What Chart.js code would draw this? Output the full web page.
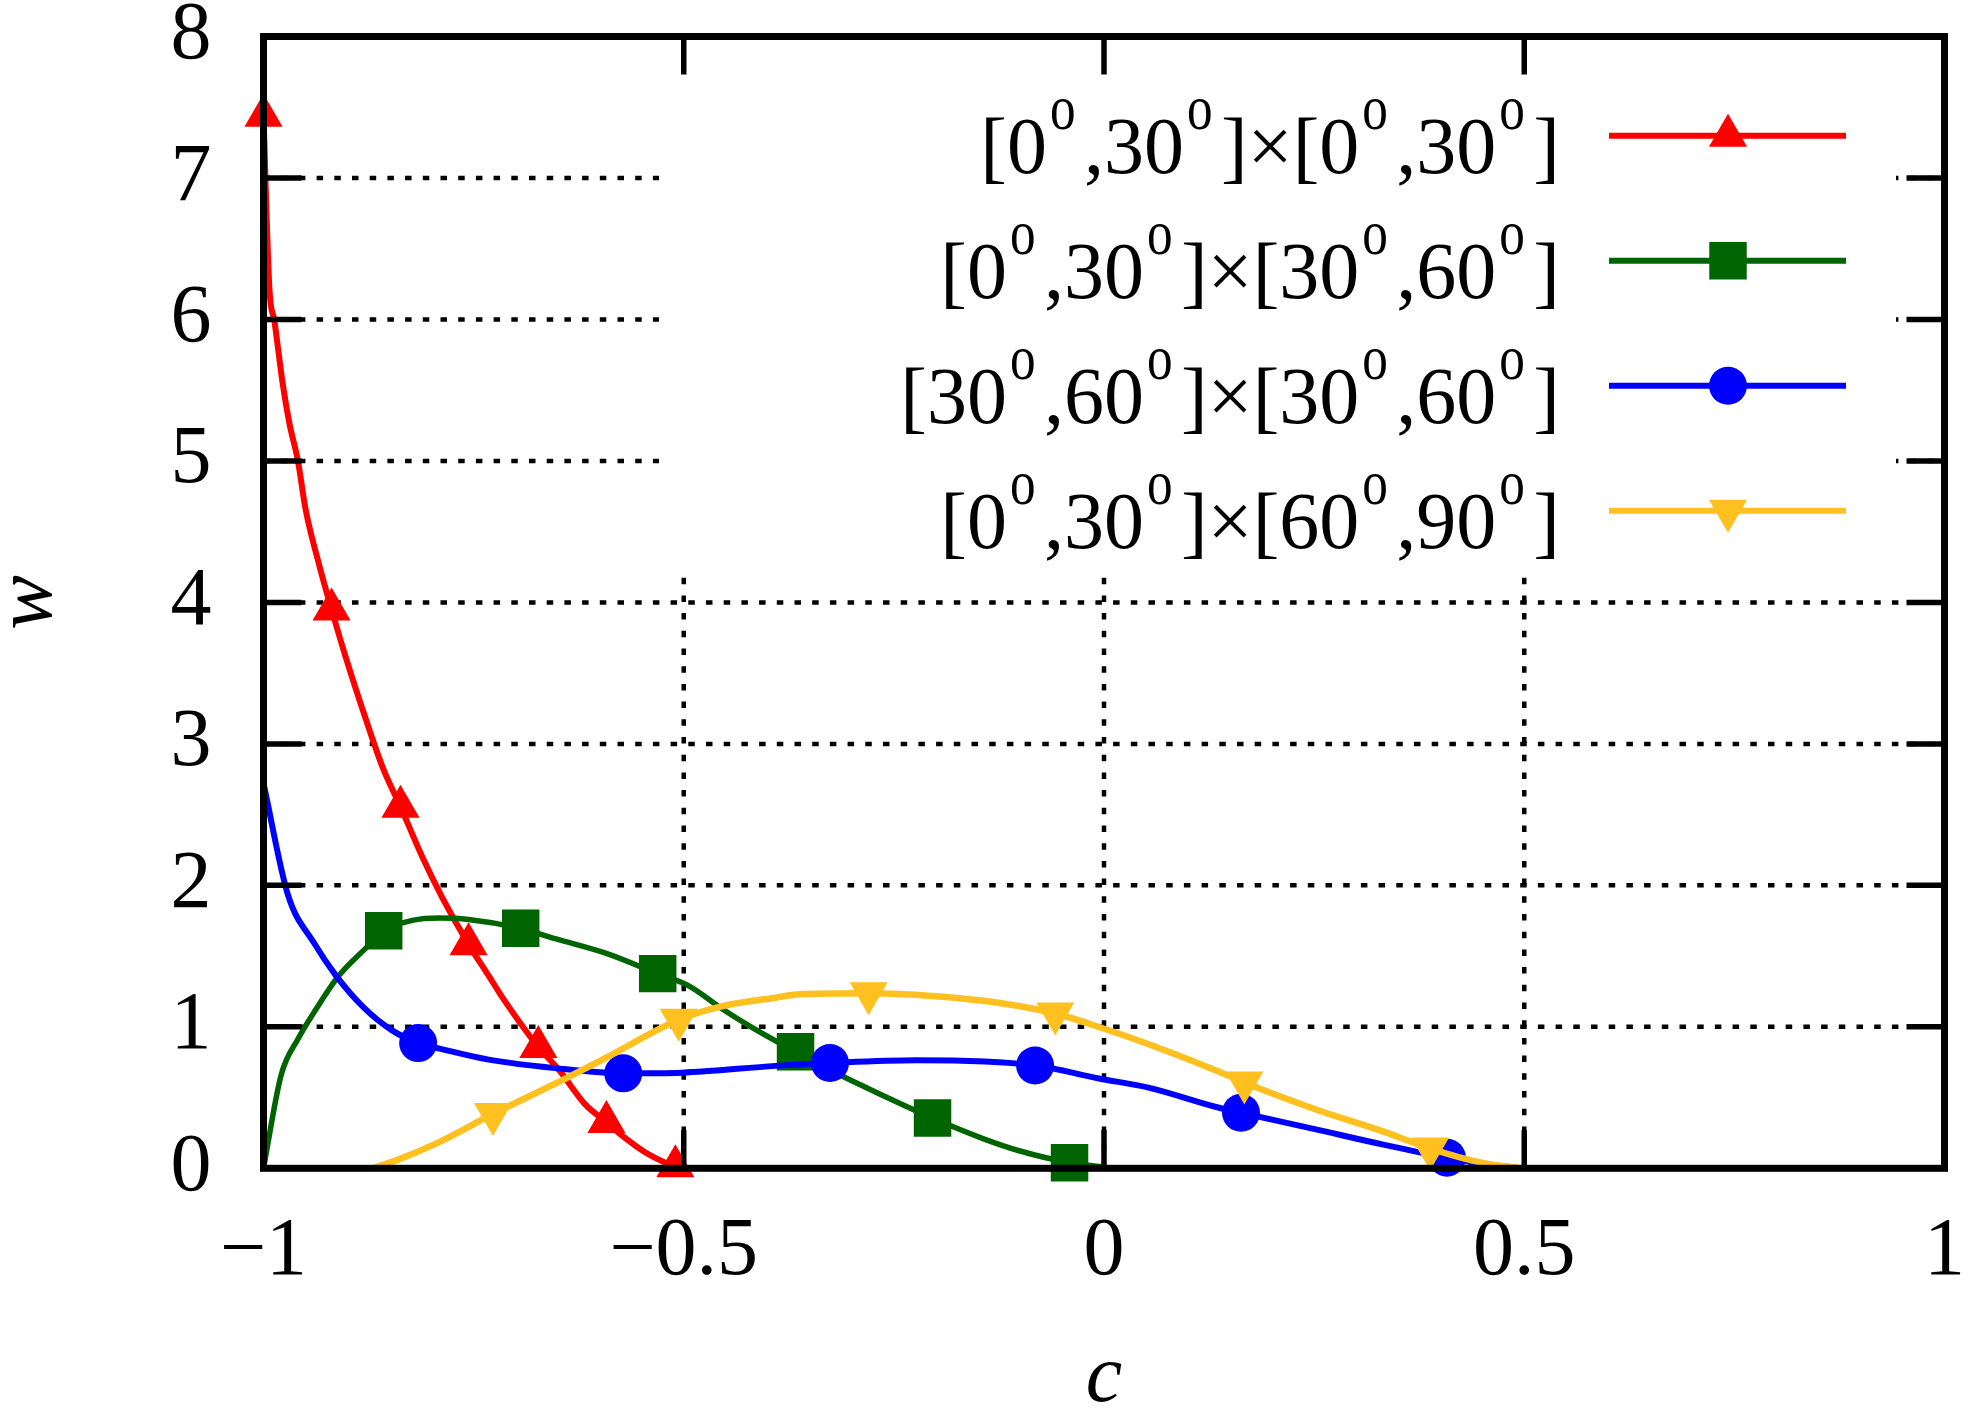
<!DOCTYPE html>
<html>
<head>
<meta charset="utf-8">
<script src="https://cdn.jsdelivr.net/npm/chart.js@4.4.1/dist/chart.umd.min.js"></script>
<style>
  html, body { margin: 0; padding: 0; background: #fff; }
</style>
</head>
<body>
<canvas id="chart" width="1979" height="1417"></canvas>
<script>
// Values

const seriesLabels = [
  '[0^o,30^o]×[0^o,30^o]',
  '[0^o,30^o]×[30^o,60^o]',
  '[30^o,60^o]×[30^o,60^o]',
  '[0^o,30^o]×[60^o,90^o]'
];

const cTicks = [-1, -0.5, 0, 0.5, 1];
const wTicks = [0, 1, 2, 3, 4, 5, 6, 7, 8];

// red, triangles
const redC = [-1, -0.993, -0.987, -0.977, -0.969, -0.959, -0.950, -0.934, -0.919, -0.902, -0.878, -0.858, -0.837,
              -0.811, -0.787, -0.756, -0.732, -0.716, -0.673, -0.649, -0.617, -0.592, -0.574, -0.546, -0.522, -0.510];
const redW = [7.44, 6.22, 5.99, 5.54, 5.26, 5.00, 4.66, 4.27, 3.95, 3.61, 3.17, 2.83, 2.556,
              2.20, 1.91, 1.583, 1.36, 1.21, 0.857, 0.70, 0.45, 0.327, 0.234, 0.113, 0.04, 0.014];
const redMarkC = [-1, -0.919, -0.837, -0.756, -0.673, -0.592, -0.510];
const redMarkW = [7.44, 3.95, 2.556, 1.583, 0.857, 0.327, 0.014];

// green, squares
const greenC = [-1, -0.979, -0.959, -0.938, -0.910, -0.878, -0.857, -0.823, -0.791, -0.756, -0.694, -0.653, -0.593,
                -0.531, -0.494, -0.455, -0.42, -0.367, -0.314, -0.267, -0.204, -0.144, -0.101, -0.041, 0];
const greenW = [0, 0.66, 0.914, 1.12, 1.364, 1.558, 1.679, 1.752, 1.769, 1.759, 1.696, 1.623, 1.521,
                1.376, 1.29, 1.13, 1.0, 0.824, 0.659, 0.526, 0.355, 0.21, 0.124, 0.04, 0.01];
const greenMarkC = [-0.857, -0.694, -0.531, -0.367, -0.204, -0.041];
const greenMarkW = [1.679, 1.696, 1.376, 0.824, 0.355, 0.04];

// blue, circles
const blueC = [-1, -0.971, -0.940, -0.914, -0.880, -0.847, -0.816, -0.787, -0.732, -0.653, -0.572, -0.502, -0.391,
               -0.326, -0.223, -0.082, -0.006, 0.054, 0.137, 0.163, 0.252, 0.331, 0.408, 0.449, 0.49];
const blueW = [2.72, 1.934, 1.594, 1.364, 1.132, 0.975, 0.885, 0.841, 0.768, 0.708, 0.671, 0.676, 0.724,
               0.744, 0.763, 0.727, 0.635, 0.569, 0.428, 0.393, 0.275, 0.169, 0.075, 0.033, 0.005];
const blueMarkC = [-0.816, -0.572, -0.326, -0.082, 0.163, 0.408];
const blueMarkW = [0.885, 0.671, 0.744, 0.727, 0.393, 0.075];

// yellow, down triangles
const yellowC = [-0.87, -0.839, -0.791, -0.727, -0.653, -0.593, -0.506, -0.455, -0.391, -0.362, -0.280, -0.204,
                 -0.124, -0.058, -0.006, 0.054, 0.137, 0.167, 0.252, 0.331, 0.388, 0.449, 0.497];
const yellowW = [0, 0.063, 0.185, 0.384, 0.598, 0.78, 1.05, 1.145, 1.206, 1.23, 1.237, 1.218,
                 1.169, 1.094, 0.999, 0.875, 0.683, 0.606, 0.416, 0.263, 0.14, 0.04, 0.0];
const yellowMarkC = [-0.727, -0.506, -0.280, -0.058, 0.167, 0.388];
const yellowMarkW = [0.384, 1.05, 1.237, 1.094, 0.606, 0.14];

// Styles

const SERIF = '"Liberation Serif", "Times New Roman", serif';

const styles = [
  {color: '#ff0000', lw: 6, shape: 'triangle', r: 22, rot: 0},
  {color: '#006400', lw: 5.5, shape: 'rect', r: 26.5, rot: 0},
  {color: '#0000ff', lw: 6, shape: 'circle', r: 19, rot: 0},
  {color: '#ffc020', lw: 6.5, shape: 'triangle', r: 22, rot: 180}
];

const lines = [[redC, redW], [greenC, greenW], [blueC, blueW], [yellowC, yellowW]];
const marks = [[redMarkC, redMarkW], [greenMarkC, greenMarkW], [blueMarkC, blueMarkW], [yellowMarkC, yellowMarkW]];

const toPts = (xs, ys) => xs.map((x, i) => ({x: x, y: ys[i]}));

let datasets = [];
styles.forEach((st, s) => {
  datasets.push({
    data: toPts(lines[s][0], lines[s][1]),
    showLine: true,
    borderColor: st.color,
    borderWidth: st.lw,
    pointRadius: 0,
    cubicInterpolationMode: 'monotone',
    clip: false,
    order: 8 - s * 2
  });
  datasets.push({
    data: toPts(marks[s][0], marks[s][1]),
    showLine: false,
    pointStyle: st.shape,
    pointRadius: st.r,
    pointRotation: st.rot,
    backgroundColor: st.color,
    borderWidth: 0,
    clip: false,
    order: 7 - s * 2
  });
});

// Functions

const keyBox = {x0: 659, x1: 1896, y0: 36, y1: 573};

function seg(ctx, x1, y1, x2, y2) {
  ctx.beginPath();
  ctx.moveTo(x1, y1);
  ctx.lineTo(x2, y2);
  ctx.stroke();
}

function drawMarker(ctx, st, x, y) {
  const r = st.r;
  ctx.fillStyle = st.color;
  ctx.beginPath();
  if (st.shape === 'triangle') {
    const d = st.rot === 180 ? -1 : 1;
    ctx.moveTo(x, y - d * r);
    ctx.lineTo(x + 0.866 * r, y + d * 0.5 * r);
    ctx.lineTo(x - 0.866 * r, y + d * 0.5 * r);
    ctx.closePath();
  } else if (st.shape === 'rect') {
    const h = r * Math.SQRT1_2;
    ctx.rect(x - h, y - h, 2 * h, 2 * h);
  } else {
    ctx.arc(x, y, r, 0, Math.PI * 2);
  }
  ctx.fill();
}

function drawLabel(ctx, text, right, base) {
  const parts = text.split(/(\^o)/).filter(p => p.length);
  const supAdv = 37;
  ctx.font = '80px ' + SERIF;
  ctx.fillStyle = '#000';
  ctx.textAlign = 'left';
  ctx.textBaseline = 'alphabetic';
  const widthOf = p => p === '^o' ? supAdv : ctx.measureText(p).width;
  let x = right - parts.reduce((s, p) => s + widthOf(p), 0);
  parts.forEach(p => {
    if (p === '^o') {
      ctx.save();
      ctx.translate(x + 3, base - 44);
      ctx.scale(0.8, 1);
      ctx.font = '64px ' + SERIF;
      ctx.fillText('o', 0, 0);
      ctx.restore();
      x += supAdv;
    } else {
      ctx.font = '80px ' + SERIF;
      ctx.fillText(p, x, base);
      x += ctx.measureText(p).width;
    }
  });
}

const framePlugin = {
  id: 'gnuFrame',
  beforeDatasetsDraw(chart) {
    const {ctx, chartArea: a, scales: {x, y}} = chart;
    ctx.save();
    ctx.strokeStyle = '#000';
    ctx.lineWidth = 4.5;
    ctx.setLineDash([6.5, 11.2]);
    cTicks.forEach(v => { const px = x.getPixelForValue(v); seg(ctx, px, a.bottom, px, a.top); });
    wTicks.forEach(v => { const py = y.getPixelForValue(v); seg(ctx, a.left, py, a.right, py); });
    ctx.setLineDash([]);
    ctx.fillStyle = '#fff';
    ctx.fillRect(keyBox.x0, keyBox.y0, keyBox.x1 - keyBox.x0, keyBox.y1 - keyBox.y0);
    ctx.restore();
  },
  afterDatasetsDraw(chart) {
    const {ctx, chartArea: a, scales: {x, y}} = chart;
    const tl = 38;
    ctx.save();
    ctx.strokeStyle = '#000';
    ctx.lineWidth = 5.5;
    cTicks.forEach(v => {
      const px = x.getPixelForValue(v);
      seg(ctx, px, a.bottom, px, a.bottom - tl);
      seg(ctx, px, a.top, px, a.top + tl);
    });
    wTicks.forEach(v => {
      const py = y.getPixelForValue(v);
      seg(ctx, a.left, py, a.left + tl, py);
      seg(ctx, a.right, py, a.right - tl, py);
    });
    ctx.lineWidth = 7;
    ctx.lineJoin = 'miter';
    ctx.strokeRect(a.left, a.top, a.right - a.left, a.bottom - a.top);
    ctx.restore();
  },
  afterDraw(chart) {
    const ctx = chart.ctx;
    ctx.save();
    seriesLabels.forEach((lab, i) => {
      const ly = 135.7 + 125 * i;
      drawLabel(ctx, lab, 1560, ly + 37.5);
      ctx.strokeStyle = styles[i].color;
      ctx.lineWidth = 6;
      seg(ctx, 1609, ly, 1846, ly);
      drawMarker(ctx, styles[i], 1728, ly);
    });
    ctx.restore();
  }
};

const fmt = v => v < 0 ? '\u2212' + Math.abs(v) : String(v);

new Chart(document.getElementById('chart'), {
  type: 'scatter',
  data: {datasets: datasets},
  options: {
    responsive: false,
    animation: false,
    devicePixelRatio: 1,
    layout: {padding: {left: 0, top: 36.5, right: 34.5, bottom: 0}},
    plugins: {legend: {display: false}, tooltip: {enabled: false}},
    scales: {
      x: {
        type: 'linear', min: -1, max: 1,
        afterBuildTicks: s => { s.ticks = cTicks.map(v => ({value: v})); },
        afterFit: s => { s.height = 248.7; s.paddingLeft = 0; s.paddingRight = 0; },
        grid: {display: false, drawTicks: false},
        border: {display: false},
        ticks: {
          font: {family: SERIF, size: 82}, color: '#000', padding: 35,
          maxRotation: 0, autoSkip: false, callback: v => fmt(v)
        },
        title: {
          display: true, text: 'c', color: '#000', padding: 0,
          font: {family: SERIF, size: 82, style: 'italic', lineHeight: 0.927}
        }
      },
      y: {
        type: 'linear', min: 0, max: 8,
        afterBuildTicks: s => { s.ticks = wTicks.map(v => ({value: v})); },
        afterFit: s => { s.width = 263.5; s.paddingTop = 0; s.paddingBottom = 0; },
        grid: {display: false, drawTicks: false},
        border: {display: false},
        ticks: {
          font: {family: SERIF, size: 82, lineHeight: 0.9}, color: '#000', padding: 52,
          autoSkip: false, callback: v => String(v)
        },
        title: {
          display: true, text: 'w', color: '#000', padding: 0,
          font: {family: SERIF, size: 82, style: 'italic', lineHeight: 0.707}
        }
      }
    }
  },
  plugins: [framePlugin]
});
</script>
</body>
</html>
